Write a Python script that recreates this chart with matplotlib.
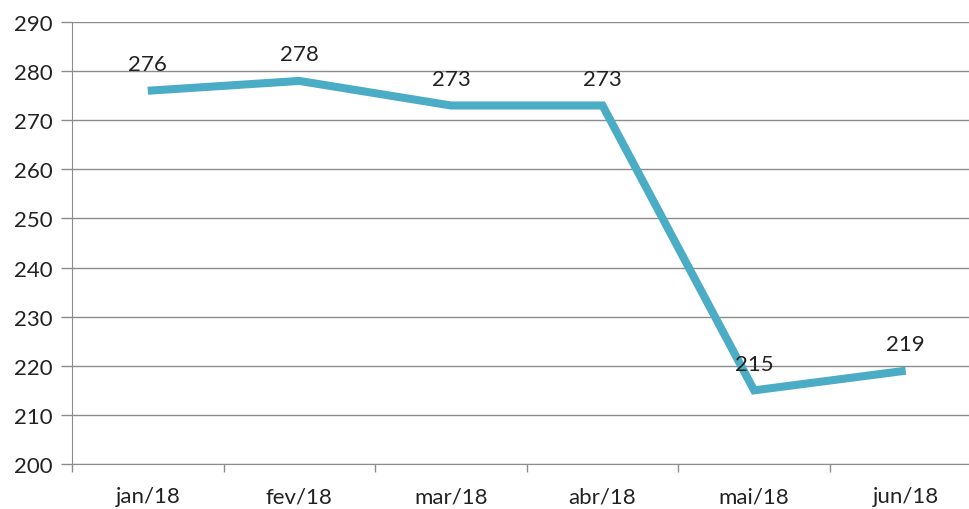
import matplotlib

matplotlib.use("Agg")
import matplotlib.pyplot as plt
import numpy as np

plt.rcParams["font.family"] = ["Lato", "DejaVu Sans"]

months = ["jan/18", "fev/18", "mar/18", "abr/18", "mai/18", "jun/18"]
values = [276, 278, 273, 273, 215, 219]
yticks = np.arange(200, 291, 10)

LINE = "#4BACC6"
GRID = "#8C8C8C"

fig = plt.figure(figsize=(9.7, 5.1), dpi=100)
ax = fig.add_axes([0.0742, 0.0882, 0.9258, 0.8667])

x = np.arange(len(months))
ax.plot(x, values, color=LINE, linewidth=5.8, solid_joinstyle="miter", solid_capstyle="butt", zorder=3)
for xi, v in zip(x, values):
    ax.annotate(str(v), (xi, v), xytext=(0, 12), textcoords="offset points",
                ha="center", va="bottom", fontsize=16, color="#222222", zorder=4)

ax.set_ylim(200, 290)
ax.set_yticks(yticks)
ax.set_yticklabels([str(t) for t in yticks], fontsize=16, color="#222222")
ax.set_xlim(-0.5, 5.424)
ax.set_xticks(x)
ax.set_xticklabels(months, fontsize=16, color="#222222")
ax.set_xticks(np.arange(-0.5, 5.5, 1.0), minor=True)
ax.tick_params(axis="x", which="major", length=0, pad=16)
ax.tick_params(axis="x", which="minor", length=6, color=GRID, width=1)
ax.tick_params(axis="y", length=8, color=GRID, width=1, pad=6)

ax.grid(axis="y", color=GRID, linewidth=1)
ax.set_axisbelow(True)
for side in ["top", "right"]:
    ax.spines[side].set_visible(False)
ax.spines["left"].set_color(GRID)
ax.spines["bottom"].set_color(GRID)

fig.savefig("out.png", dpi=100)
